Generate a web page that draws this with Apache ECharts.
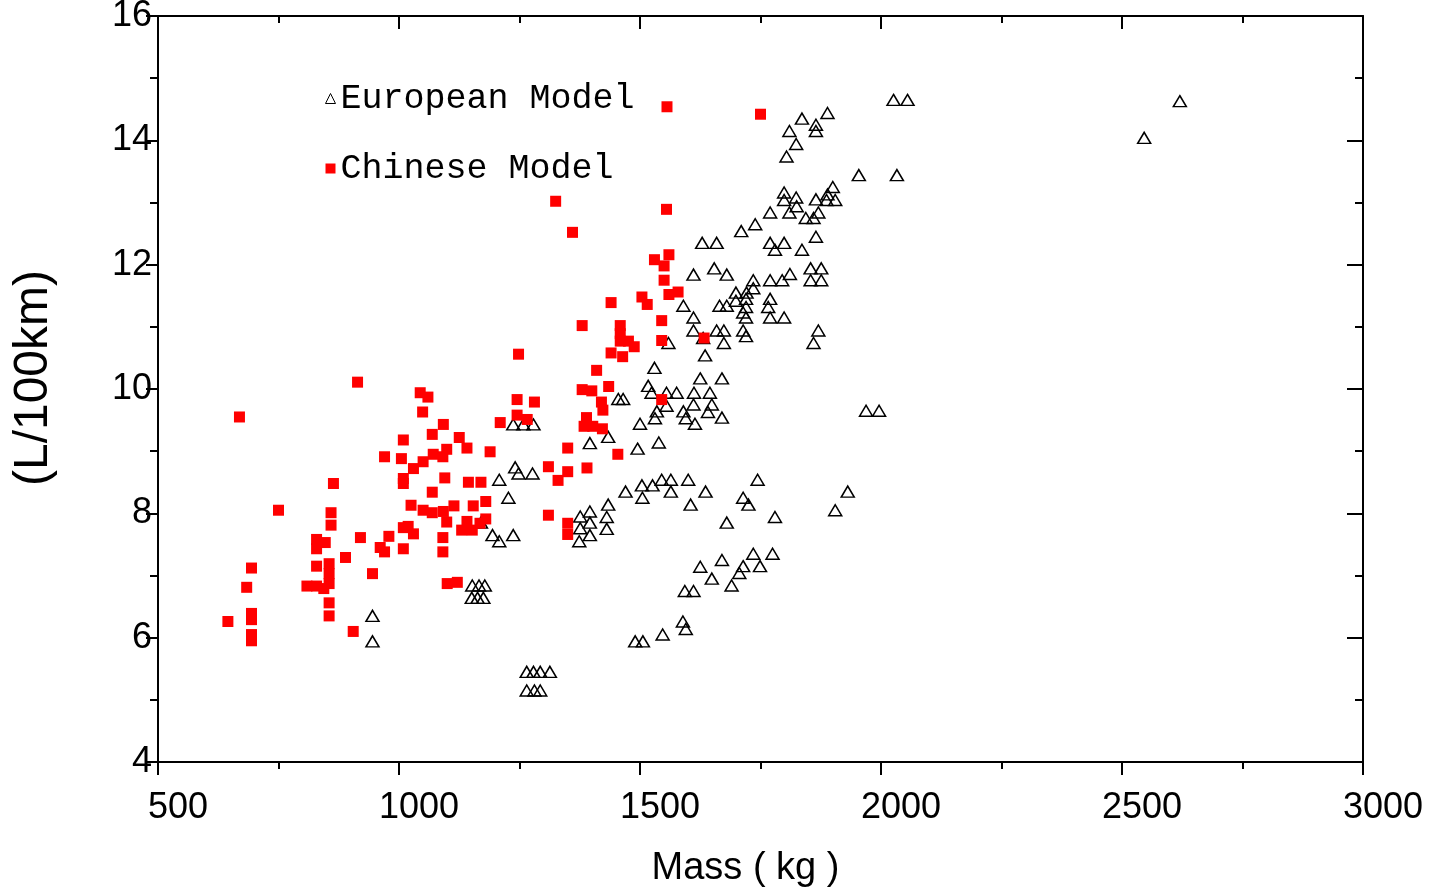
<!DOCTYPE html>
<html>
<head>
<meta charset="utf-8">
<script src="https://cdn.jsdelivr.net/npm/echarts@6/dist/echarts.min.js"></script>
<style>
html,body{margin:0;padding:0;background:#fff;}
#chart{width:1437px;height:889px;}
</style>
</head>
<body>
<div id="chart"></div>
<script>
// European Model: mass (kg) and fuel consumption (L/100km)
const europeanMass = [2026,2055,2620,2546,1889,1836,1865,1865,1810,1824,1804,1954,2033,1900,1799,1799,1824,1825,1865,1889,1887,1905,1770,1810,1870,1844,1860,1739,1710,1865,1629,1659,1770,1799,1780,1836,1654,1611,1680,1854,1876,1854,1876,1811,1770,1795,1735,1735,1699,1721,1720,1699,1770,1766,1720,1714,1720,1590,1665,1680,1611,1770,1799,1611,1659,1674,1714,1720,1870,1860,1559,1631,1674,1635,1530,1625,1670,1517,1524,1555,1576,1612,1645,1455,1465,1535,1555,1590,1611,1649,1641,1531,1595,1614,1670,1500,1237,1258,1279,1396,1434,1495,1539,1241,1248,1277,1208,1227,1470,1504,1526,1545,1564,1600,1505,1564,1636,1605,1744,1714,1725,1680,1780,1931,1905,1969,1996,1376,1396,1434,1376,1396,1431,1431,1374,1396,1194,1208,1237,1170,1152,1166,1178,1151,1163,1175,1625,1670,1649,1690,1593,1611,1735,1775,1714,1749,1706,1589,1595,1547,1490,1506,1265,1279,1293,1313,1265,1281,1293,945,945];
const europeanFc = [14.65,14.65,14.63,14.04,14.44,14.35,14.25,14.15,14.15,13.94,13.74,13.44,13.44,13.25,13.16,13.04,13.08,12.94,13.05,13.13,13.04,13.04,12.84,12.84,12.84,12.75,12.75,12.65,12.54,12.45,12.35,12.35,12.35,12.35,12.24,12.24,11.94,11.84,11.84,11.94,11.94,11.75,11.75,11.85,11.75,11.75,11.75,11.62,11.55,11.55,11.45,11.42,11.45,11.32,11.32,11.23,11.15,11.34,11.34,11.34,11.15,11.15,11.15,10.94,10.94,10.94,10.94,10.85,10.94,10.74,10.74,10.82,10.74,10.54,10.34,10.17,10.17,10.05,9.94,9.94,9.94,9.94,9.94,9.84,9.84,9.64,9.73,9.64,9.75,9.75,9.63,9.53,9.53,9.44,9.54,9.44,9.43,9.43,9.43,9.13,9.23,9.04,9.14,8.74,8.64,8.64,8.54,8.25,8.35,8.45,8.45,8.54,8.54,8.54,8.25,8.35,8.35,8.14,8.54,8.25,8.14,7.85,7.94,8.35,8.05,9.65,9.65,7.95,8.03,8.14,7.76,7.85,7.94,7.75,7.55,7.65,7.65,7.55,7.65,7.85,6.84,6.84,6.84,6.64,6.64,6.64,7.14,7.25,6.95,6.84,6.75,6.75,7.35,7.35,7.15,7.15,7.04,6.26,6.14,6.05,5.94,5.94,5.45,5.45,5.45,5.45,5.15,5.15,5.15,6.35,5.94];

// Chinese Model
const chineseMass = [1556,1750,1325,1555,1360,1560,1530,1550,1550,1560,1579,1440,1504,1515,1545,1380,1459,1459,1459,1476,1488,1545,1633,1440,1464,1248,1410,1380,1400,1435,1420,1423,1545,1245,1281,1245,1266,1210,1389,1384,1402,1422,1092,1125,1099,1141,1189,1350,1454,1310,1350,1390,1091,1330,1095,1144,1170,1180,1154,1114,1092,1310,1099,1141,1130,1152,1168,1180,1350,1350,1091,1091,1100,1121,914,669,1044,1060,1049,1009,1069,970,1005,1071,1050,1030,1009,1009,864,1069,750,859,859,1025,1050,1069,1009,1019,1030,979,920,961,970,829,829,847,1009,889,694,829,855,855,945,684,809,829,844,855,855,855,694,694,645,694,694,905];
const chineseFc = [14.54,14.42,13.02,12.89,12.52,12.16,12.08,11.98,11.75,11.52,11.56,11.39,11.48,11.36,11.10,11.02,11.02,10.89,10.77,10.77,10.68,10.78,10.82,10.58,10.52,10.56,10.30,9.99,9.97,10.04,9.79,9.66,9.83,9.83,9.79,9.58,9.51,9.46,9.54,9.40,9.40,9.36,9.43,9.22,9.03,9.05,8.99,9.05,8.95,8.75,8.67,8.73,8.91,8.53,8.57,8.50,8.50,8.19,8.12,8.12,8.03,7.97,7.86,7.87,7.73,7.73,7.84,7.91,7.84,7.66,7.61,7.38,6.87,6.89,10.11,9.55,9.94,9.87,9.63,9.18,9.27,8.91,8.88,8.95,8.83,8.72,8.56,8.48,8.48,8.34,8.05,8.01,7.81,8.13,8.05,8.01,7.77,7.79,7.67,7.63,7.61,7.45,7.38,7.58,7.43,7.53,7.43,7.29,7.12,7.15,7.19,7.03,7.03,6.81,6.83,6.83,6.79,6.87,6.56,6.35,6.39,6.29,6.26,6.05,5.95,6.10];

const seriesNames = ['European Model', 'Chinese Model'];
const xTicks = [500, 3000, 500];   // min, max, interval
const yTicks = [4, 16, 2];
const xTitle = 'Mass ( kg )';
const yTitle = '(L/100km)';

const zip = (a, b) => a.map((v, i) => [v, b[i]]);

const chart = echarts.init(document.getElementById('chart'), null, {renderer: 'canvas'});
const font = "'Liberation Sans', Arial, sans-serif";
const lineStyle = {color: '#000', width: 2};
const plain = v => String(v);

const option = {
  backgroundColor: '#fff',
  animation: false,
  grid: {left: 158, top: 16, right: 74, bottom: 127, containLabel: false, outerBoundsMode: 'none'},
  legend: {
    orient: 'vertical',
    left: 320,
    top: 76,
    itemWidth: 10,
    itemHeight: 10,
    itemGap: 35,
    textStyle: {fontFamily: "'Liberation Mono', 'DejaVu Sans Mono', monospace", fontSize: 35, color: '#000'},
    data: [
      {name: seriesNames[0], icon: 'triangle', itemStyle: {color: 'rgba(0,0,0,0)', borderColor: '#000', borderWidth: 1, opacity: 1}},
      {name: seriesNames[1], icon: 'rect', itemStyle: {color: '#ff0000', opacity: 1}}
    ]
  },
  xAxis: [
    {
      type: 'value', position: 'bottom',
      min: xTicks[0], max: xTicks[1], interval: xTicks[2],
      name: xTitle, nameLocation: 'middle', nameGap: 88,
      nameTextStyle: {fontFamily: font, fontSize: 38, color: '#000', padding: [0, 30, 0, 0]},
      axisLine: {show: true, lineStyle},
      axisTick: {show: true, inside: false, length: 13, lineStyle},
      minorTick: {show: true, splitNumber: 2, length: 7, lineStyle},
      axisLabel: {fontFamily: font, fontSize: 36, color: '#000', margin: 28, padding: [0, 0, 0, 40], formatter: plain},
      splitLine: {show: false}
    },
    {
      type: 'value', position: 'top',
      min: xTicks[0], max: xTicks[1], interval: xTicks[2],
      axisLine: {show: true, onZero: false, lineStyle},
      axisTick: {show: true, inside: true, length: 13, lineStyle},
      minorTick: {show: true, splitNumber: 2, length: 7, lineStyle},
      axisLabel: {show: false},
      splitLine: {show: false}
    }
  ],
  yAxis: [
    {
      type: 'value', position: 'left',
      min: yTicks[0], max: yTicks[1], interval: yTicks[2],
      name: yTitle, nameLocation: 'middle', nameGap: 100, nameRotate: 90,
      nameTextStyle: {fontFamily: font, fontSize: 48, color: '#000', padding: [0, 0, 0, 22]},
      axisLine: {show: true, onZero: false, lineStyle},
      axisTick: {show: true, inside: false, length: 12, lineStyle},
      minorTick: {show: true, splitNumber: 2, length: 8, lineStyle},
      axisLabel: {fontFamily: font, fontSize: 36, color: '#000', margin: 6, formatter: plain},
      splitLine: {show: false}
    },
    {
      type: 'value', position: 'right',
      min: yTicks[0], max: yTicks[1], interval: yTicks[2],
      axisLine: {show: true, onZero: false, lineStyle},
      axisTick: {show: true, inside: true, length: 16, lineStyle},
      minorTick: {show: true, splitNumber: 2, length: 8, lineStyle},
      axisLabel: {show: false},
      splitLine: {show: false}
    }
  ],
  series: [
    {
      name: seriesNames[0],
      type: 'scatter',
      xAxisIndex: 0, yAxisIndex: 0,
      symbol: 'triangle',
      symbolSize: [13, 11],
      itemStyle: {color: 'rgba(0,0,0,0)', borderColor: '#000', borderWidth: 1.5, opacity: 1},
      data: zip(europeanMass, europeanFc)
    },
    {
      name: seriesNames[1],
      type: 'scatter',
      xAxisIndex: 0, yAxisIndex: 0,
      symbol: 'rect',
      symbolSize: 11,
      itemStyle: {color: '#ff0000', opacity: 1},
      data: zip(chineseMass, chineseFc)
    }
  ]
};
chart.setOption(option);
</script>
</body>
</html>
